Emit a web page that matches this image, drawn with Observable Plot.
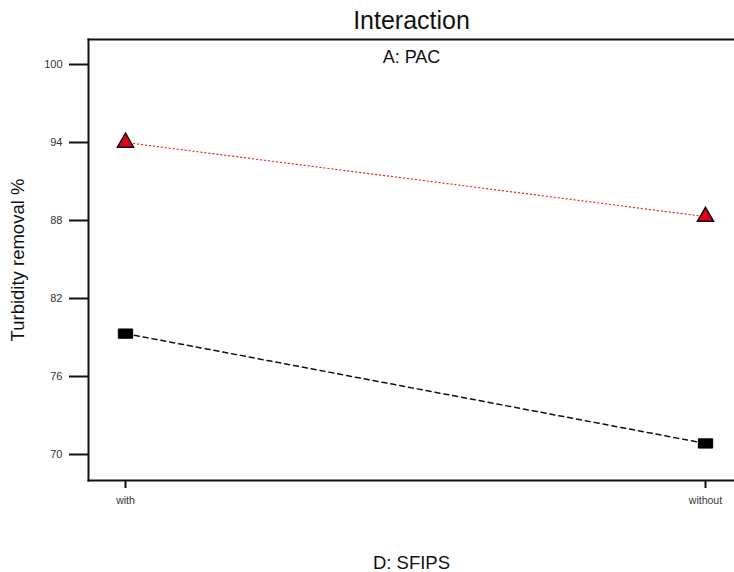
<!DOCTYPE html>
<html>
<head>
<meta charset="utf-8">
<script src="https://cdn.jsdelivr.net/npm/d3@7"></script>
<script src="https://cdn.jsdelivr.net/npm/@observablehq/plot@0.6"></script>
<style>
  html, body { margin: 0; padding: 0; background: #fff; }
  #chart svg { display: block; font-family: "Liberation Sans", Arial, sans-serif; }
</style>
</head>
<body>
<div id="chart"></div>
<script>
const categories = ["with", "without"];
const pacPresent = [94.0, 88.3];   // red triangles
const pacAbsent = [79.3, 70.85];   // black squares
const yTicks = [70, 76, 82, 88, 94, 100];

const rows = [];
categories.forEach((c, i) => {
  rows.push({ sfips: c, value: pacPresent[i], series: "PAC+" });
  rows.push({ sfips: c, value: pacAbsent[i], series: "PAC-" });
});
const redRows = rows.filter(d => d.series === "PAC+");
const blackRows = rows.filter(d => d.series === "PAC-");

const rectSymbol = {
  draw(ctx, size) {
    const h = Math.sqrt(size / 1.55);
    const w = h * 1.55;
    ctx.moveTo(-w / 2, -h / 2);
    ctx.lineTo(w / 2, -h / 2);
    ctx.lineTo(w / 2, h / 2);
    ctx.lineTo(-w / 2, h / 2);
    ctx.closePath();
  }
};

const chart = Plot.plot({
  width: 734,
  height: 572,
  marginTop: 39,
  marginBottom: 92,
  marginLeft: 88,
  marginRight: 0,
  style: { fontFamily: "Liberation Sans, Arial, sans-serif", background: "#fff" },
  x: { type: "point", domain: categories, range: [125, 705], padding: 0, axis: null },
  y: { domain: [70, 100], range: [454, 64], axis: null },
  marks: [
    Plot.frame({ anchor: "left", stroke: "#111", strokeWidth: 2 }),
    Plot.frame({ anchor: "top", stroke: "#111", strokeWidth: 2 }),
    Plot.frame({ anchor: "bottom", stroke: "#111", strokeWidth: 2 }),
    Plot.axisY({ ticks: yTicks, tickSize: 19, tickPadding: 7, stroke: "#111", strokeWidth: 2, fontSize: 11, fill: "#333", label: null, tickFormat: d => String(d) }),
    Plot.axisX({ ticks: categories, tickSize: 8, tickPadding: 8, stroke: "#111", strokeWidth: 2, fontSize: 10.5, fill: "#333", label: null }),
    Plot.line(redRows, { x: "sfips", y: "value", stroke: "#e0302a", strokeWidth: 1.2, strokeDasharray: "1.2,2.8" }),
    Plot.line(blackRows, { x: "sfips", y: "value", stroke: "#111", strokeWidth: 1.5, strokeDasharray: "5,4" }),
    Plot.dot(redRows, { x: "sfips", y: "value", symbol: "triangle", r: 6, fill: "#e0001a", stroke: "#111", strokeWidth: 1.5 }),
    Plot.dot(blackRows, { x: "sfips", y: "value", symbol: rectSymbol, r: 6.5, fill: "#000", stroke: "#000", strokeWidth: 1, strokeLinejoin: "round" }),
    Plot.text(["Interaction"], { frameAnchor: "top", dy: -19, fontSize: 25, fill: "#111", lineAnchor: "middle" }),
    Plot.text(["A: PAC"], { frameAnchor: "top", dy: 18, fontSize: 18, fill: "#111", lineAnchor: "middle" }),
    Plot.text(["D: SFIPS"], { frameAnchor: "bottom", dy: 83, fontSize: 18.5, fill: "#111", lineAnchor: "middle" }),
    Plot.text(["Turbidity removal %"], { frameAnchor: "left", dx: -70, rotate: -90, fontSize: 18.5, fill: "#111", textAnchor: "middle", lineAnchor: "middle" })
  ]
});
document.getElementById("chart").appendChild(chart);
</script>
</body>
</html>
